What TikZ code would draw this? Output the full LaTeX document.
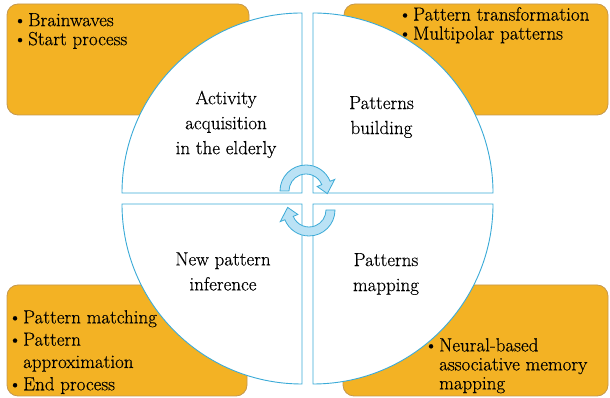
\documentclass[tikz,border=0pt]{standalone}
\usepackage{fontspec}
\setmainfont{Latin Modern Roman}[FakeBold=0.4]
\definecolor{boxfill}{RGB}{243,178,36}
\definecolor{boxline}{RGB}{196,152,78}
\definecolor{ringline}{RGB}{58,170,215}
\definecolor{arrowfill}{RGB}{186,226,245}
\newcommand\bul{\makebox[15pt][l]{\textbullet}}
\newcommand\ind{\hspace*{15pt}}

\begin{document}
\begin{tikzpicture}[x=1pt,y=1pt,
    box/.style={draw=boxline,fill=boxfill,rounded corners=11pt,line width=0.8pt},
    quarter/.style={draw=ringline,fill=white,line width=0.9pt},
    turn/.style={draw=ringline,fill=arrowfill,line width=0.8pt},
    stage/.style={align=center,inner sep=0pt,font=\fontsize{19}{25}\selectfont},
    notes/.style={align=left,anchor=north west,inner sep=0pt,font=\fontsize{19}{19}\selectfont}]
    \useasboundingbox (0,0) rectangle (610,398);

    % corner boxes
    \draw[box] (7,283) rectangle (249,394);
    \draw[box] (344,283) rectangle (608,394);
    \draw[box] (7,2) rectangle (247,113);
    \draw[box] (343,2) rectangle (608,113);

    % four quarters of the wheel
    \draw[quarter] (302,205) -- (122,205) arc (180:90:180) -- cycle;
    \draw[quarter] (313,205) -- (313,385) arc (90:0:180) -- cycle;
    \draw[quarter] (302,194) -- (122,194) arc (180:270:180) -- cycle;
    \draw[quarter] (313,194) -- (493,194) arc (0:-90:180) -- cycle;

    % turning arrows in the middle
    \draw[turn,shift={(306,207)}] (180:26) arc (180:22:26) -- (22:31) -- (-7:21.5)
      -- (22:12) -- (22:17) arc (22:180:17) -- cycle;
    \draw[turn,shift={(309,188)},rotate=180] (180:26) arc (180:22:26) -- (22:31) -- (-7:21.5)
      -- (22:12) -- (22:17) arc (22:180:17) -- cycle;

    \node[stage] (acq)   at (226,273.6) {Activity\\acquisition\\in the elderly};
    \node[stage] (build) at (381.5,281) {Patterns\\building};
    \node[stage] (infer) at (223,126.5) {New pattern\\inference};
    \node[stage] (map)   at (386,124)   {Patterns\\mapping};

    \node[notes] (acqnotes)   at (13,385)  {\bul Brainwaves\\\bul Start process};
    \node[notes] (buildnotes) at (398,391) {\bul Pattern transformation\\\bul Multipolar patterns};
    \node[notes,font=\fontsize{19}{22.3}\selectfont] (infernotes) at (8,88)
      {\bul Pattern matching\\\bul Pattern\\\ind approximation\\\bul End process};
    \node[notes] (mapnotes)   at (424,60)  {\bul Neural-based\\\ind associative memory\\\ind mapping};
\end{tikzpicture}
\end{document}
